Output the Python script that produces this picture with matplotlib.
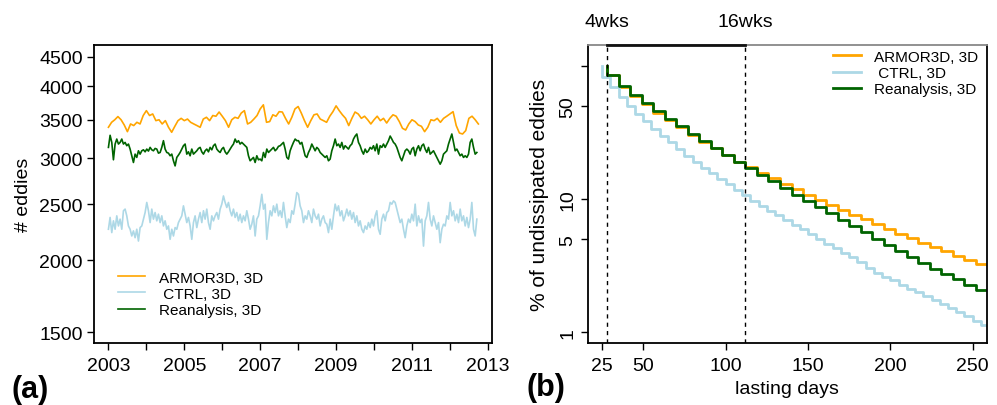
import numpy as np
import matplotlib
matplotlib.use('Agg')
import matplotlib.pyplot as plt
import matplotlib.transforms as mtransforms
from matplotlib.ticker import FixedLocator, NullLocator

plt.rcParams['font.family'] = ['Liberation Sans', 'DejaVu Sans']

ORANGE = '#FFA500'
LIGHTBLUE = '#ADD8E6'
DARKGREEN = '#006400'

# ---- panel (a): number of eddies through time ----
# ARMOR3D, monthly from 2003.0
armor_start = 2003.0
armor_step = 1 / 12
armor = [3397, 3465, 3500, 3545, 3500, 3428, 3338, 3442, 3420, 3465,
         3442, 3560, 3630, 3560, 3582, 3488, 3500, 3442, 3488, 3397,
         3330, 3410, 3488, 3520, 3488, 3510, 3465, 3442, 3420, 3397,
         3510, 3535, 3488, 3560, 3550, 3610, 3550, 3488, 3397, 3500,
         3535, 3520, 3595, 3630, 3442, 3465, 3510, 3560, 3655, 3715,
         3465, 3475, 3570, 3550, 3615, 3610, 3520, 3442, 3535, 3655,
         3690, 3595, 3488, 3397, 3488, 3570, 3582, 3510, 3488, 3465,
         3550, 3615, 3700, 3630, 3570, 3520, 3420, 3520, 3610, 3582,
         3520, 3550, 3500, 3442, 3500, 3550, 3488, 3520, 3455, 3520,
         3570, 3550, 3475, 3383, 3360, 3442, 3500, 3475, 3428, 3410,
         3338, 3397, 3500, 3488, 3520, 3465, 3520, 3550, 3582, 3615,
         3420, 3320, 3307, 3352, 3520, 3550, 3500, 3442]

# Reanalysis and CTRL, sampled about every 16 days over 2003.0 - 2012.71
series_start = 2003.0
series_end = 2012.71
reana = [3135, 3290, 3198, 2984, 3177, 3241, 3177, 3198, 3241, 3177,
         3198, 3156, 3177, 3114, 3032, 2952, 3052, 3012, 3093, 3052,
         3093, 3105, 3080, 3114, 3089, 3135, 3105, 3093, 3122, 3114,
         3064, 3072, 3135, 3220, 3114, 3072, 3064, 3032, 3052, 2972,
         2912, 3012, 3040, 3072, 3114, 3156, 3177, 3052, 3080, 3032,
         3114, 3052, 3072, 3093, 3122, 3135, 3080, 3052, 3093, 3114,
         3080, 3135, 3105, 3156, 3177, 3114, 3089, 3072, 3114, 3135,
         3080, 3052, 3080, 3114, 3148, 3177, 3241, 3198, 3220, 3177,
         3198, 3177, 3156, 3135, 3032, 2972, 2992, 3012, 2952, 3032,
         2984, 2992, 2972, 3072, 3012, 3114, 3072, 3093, 3114, 3135,
         3093, 3114, 3148, 3156, 3177, 3198, 3114, 3012, 2992, 3093,
         3148, 3198, 3241, 3220, 3220, 3177, 3198, 3114, 3032, 3012,
         3072, 3114, 3177, 3135, 3093, 3135, 3114, 3072, 3052, 3032,
         3012, 3032, 2972, 2992, 3093, 3156, 3241, 3156, 3177, 3135,
         3198, 3114, 3156, 3135, 3114, 3156, 3177, 3241, 3280, 3307,
         3198, 3156, 3093, 3052, 3114, 3072, 3093, 3135, 3114, 3156,
         3093, 3177, 3052, 3156, 3135, 3177, 3135, 3177, 3220, 3280,
         3241, 3198, 3177, 3135, 3072, 3012, 2972, 3032, 3093, 3114,
         3093, 3052, 3114, 3135, 3032, 3114, 3156, 3093, 3156, 3177,
         3114, 3072, 3135, 3052, 3072, 3093, 3052, 3012, 2972, 2932,
         2972, 3052, 3072, 3093, 3177, 3241, 3307, 3198, 3093, 3114,
         3072, 3032, 3052, 3012, 3032, 3012, 3052, 3198, 3241, 3135,
         3052, 3072]
ctrl = [2262, 2371, 2232, 2339, 2262, 2386, 2292, 2355, 2262, 2435,
        2451, 2386, 2292, 2262, 2202, 2247, 2187, 2262, 2158, 2277,
        2292, 2355, 2418, 2517, 2435, 2323, 2451, 2355, 2418, 2339,
        2402, 2323, 2386, 2292, 2339, 2262, 2292, 2173, 2262, 2202,
        2277, 2262, 2323, 2355, 2386, 2483, 2402, 2323, 2371, 2292,
        2173, 2323, 2386, 2277, 2355, 2418, 2323, 2435, 2355, 2451,
        2323, 2262, 2386, 2339, 2386, 2418, 2355, 2451, 2500, 2583,
        2517, 2467, 2517, 2435, 2386, 2451, 2371, 2418, 2339, 2402,
        2323, 2386, 2339, 2435, 2355, 2262, 2308, 2386, 2202, 2355,
        2386, 2483, 2600, 2451, 2500, 2173, 2323, 2435, 2386, 2483,
        2418, 2500, 2386, 2435, 2371, 2517, 2386, 2277, 2355, 2323,
        2435, 2402, 2500, 2618, 2600, 2483, 2435, 2323, 2386, 2355,
        2435, 2386, 2323, 2451, 2386, 2355, 2402, 2292, 2355, 2386,
        2323, 2308, 2232, 2355, 2262, 2386, 2500, 2435, 2483, 2386,
        2435, 2339, 2386, 2451, 2386, 2435, 2355, 2418, 2323, 2386,
        2292, 2339, 2262, 2232, 2292, 2262, 2323, 2277, 2355, 2292,
        2386, 2435, 2262, 2217, 2355, 2402, 2339, 2418, 2435, 2517,
        2500, 2533, 2517, 2451, 2386, 2323, 2355, 2262, 2187, 2292,
        2355, 2323, 2402, 2339, 2500, 2292, 2386, 2323, 2355, 2115,
        2339, 2386, 2517, 2355, 2292, 2386, 2323, 2262, 2323, 2144,
        2262, 2308, 2292, 2386, 2355, 2517, 2386, 2435, 2339, 2402,
        2323, 2451, 2339, 2386, 2292, 2371, 2277, 2355, 2517, 2262,
        2202, 2355]

eddy_yticks = [1500, 2000, 2500, 3000, 3500, 4000, 4500]
years = list(range(2003, 2014))
year_labels = [str(y) if y % 2 == 1 else '' for y in years]

# ---- panel (b): survival of eddies ----
armor_days = np.arange(28, 260, 7)
armor_pct = [100, 85.0, 69.1, 59.8, 51.4, 44.5, 39.2, 34.5, 30.2, 26.9,
             24.0, 21.3, 19.1, 17.5, 15.8, 14.3, 13.0, 11.9, 10.8, 9.83,
             9.01, 8.26, 7.62, 7.03, 6.44, 5.94, 5.51, 5.11, 4.69, 4.37,
             4.06, 3.74, 3.47, 3.24]
reana_pct = [100, 85.0, 70.3, 60.8, 52.3, 45.5, 40.1, 35.1, 30.7, 27.1,
             24.1, 21.5, 19.1, 17.0, 15.2, 13.7, 12.0, 10.8, 9.66, 8.65,
             7.80, 6.95, 6.26, 5.67, 5.00, 4.50, 4.08, 3.68, 3.33, 3.00,
             2.75, 2.49, 2.25, 2.06]
ctrl_days = np.arange(25, 261, 5)
ctrl_pct = [100, 82.6, 69.1, 58.4, 50.2, 43.5, 38.3, 33.5, 29.8, 26.6,
            23.7, 21.1, 19.0, 17.2, 15.6, 14.1, 12.9, 11.7, 10.7, 9.72,
            8.91, 8.17, 7.57, 6.95, 6.37, 5.91, 5.45, 5.05, 4.63, 4.30,
            3.96, 3.68, 3.37, 3.04, 2.80, 2.60, 2.45, 2.27, 2.12, 1.99,
            1.87, 1.75, 1.64, 1.52, 1.41, 1.32, 1.22, 1.14]
pct_yticks = [1, 5, 10, 50, 100]
pct_ylabels = ['1', '5', '10', '50', '']
day_xticks = [25, 50, 100, 150, 200, 250]
week_marks = [28, 112]
week_labels = ['4wks', '16wks']

labels = ['ARMOR3D, 3D', ' CTRL, 3D', 'Reanalysis, 3D']

fig = plt.figure(figsize=(9.97, 4.06), dpi=100)
ax1 = fig.add_axes([0.0943, 0.1527, 0.3992, 0.734])
ax2 = fig.add_axes([0.5895, 0.152, 0.4002, 0.7354])

# 左圖
t_armor = armor_start + armor_step * np.arange(len(armor))
t_reana = np.linspace(series_start, series_end, len(reana))
t_ctrl = np.linspace(series_start, series_end, len(ctrl))
ax1.plot(t_armor, armor, color=ORANGE, lw=1.2, label=labels[0])
ax1.plot(t_ctrl, ctrl, color=LIGHTBLUE, lw=1.2, label=labels[1])
ax1.plot(t_reana, reana, color=DARKGREEN, lw=1.2, label=labels[2])
ax1.set_yscale('log')
ax1.set_ylim(1437, 4716)
ax1.set_xlim(2002.62, 2013.11)
ax1.yaxis.set_major_locator(FixedLocator(eddy_yticks))
ax1.yaxis.set_minor_locator(NullLocator())
ax1.set_yticklabels([str(v) for v in eddy_yticks])
ax1.set_xticks(years)
ax1.set_xticklabels(year_labels)
ax1.tick_params(labelsize=14, length=5, width=1, pad=3)
ax1.tick_params(axis='x', pad=5)
ax1.set_ylabel('# eddies', fontsize=14, labelpad=5)
for s in ax1.spines.values():
    s.set_linewidth(1.3)
ax1.legend(loc='center left', bbox_to_anchor=(0.06, 0.165), frameon=False,
           fontsize=11, handlelength=1.8, handletextpad=0.9,
           labelspacing=0.15, borderpad=0, borderaxespad=0)

# 右圖
ax2.plot(armor_days, armor_pct, drawstyle='steps-pre', color=ORANGE, lw=2.0,
         label=labels[0])
ax2.plot(ctrl_days, ctrl_pct, drawstyle='steps-pre', color=LIGHTBLUE, lw=2.0,
         label=labels[1])
ax2.plot(armor_days, reana_pct, drawstyle='steps-pre', color=DARKGREEN,
         lw=2.0, label=labels[2])
ax2.set_yscale('log')
ax2.set_ylim(0.826, 144)
ax2.set_xlim(16.3, 258.5)
ax2.yaxis.set_major_locator(FixedLocator(pct_yticks))
ax2.yaxis.set_minor_locator(NullLocator())
ax2.set_yticklabels(pct_ylabels, rotation=90, va='center')
ax2.set_xticks(day_xticks)
ax2.tick_params(labelsize=14, length=5, width=1, pad=3)
ax2.tick_params(axis='x', pad=5)
ax2.set_xlabel('lasting days', fontsize=14, labelpad=4)
ax2.set_ylabel('% of undissipated eddies', fontsize=15, labelpad=8)
for s in ax2.spines.values():
    s.set_linewidth(1.3)
ax2.spines['top'].set_color('#888888')
for d in week_marks:
    ax2.axvline(d, color='black', lw=1, ls=(0, (3, 3)))
trans = mtransforms.blended_transform_factory(ax2.transData, ax2.transAxes)
ax2.plot(week_marks, [1, 1], color='#111111', lw=2, transform=trans,
         clip_on=False, zorder=4)
for d, lab in zip(week_marks, week_labels):
    ax2.annotate(lab, xy=(d, 1), xycoords=trans, xytext=(0, 17),
                 textcoords='offset points', ha='center', va='center',
                 fontsize=14)
ax2.legend(loc='center left', bbox_to_anchor=(0.615, 0.905), frameon=False,
           fontsize=11, handlelength=1.8, handletextpad=0.9,
           labelspacing=0.15, borderpad=0, borderaxespad=0)

fig.text(0.012, 0.039, '(a)', fontsize=22, fontweight='bold', va='center')
fig.text(0.528, 0.044, '(b)', fontsize=22, fontweight='bold', va='center')

fig.savefig('out.png', dpi=100)
